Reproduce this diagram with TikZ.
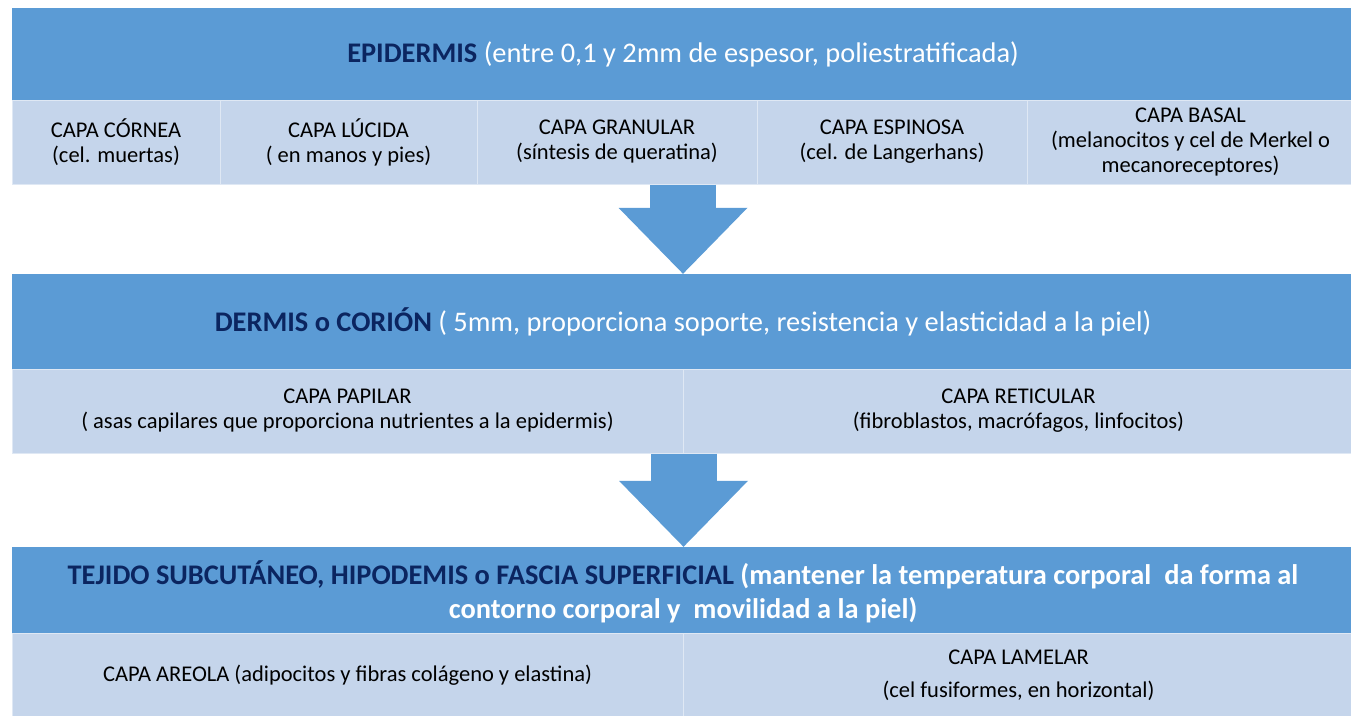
\documentclass[tikz,border=0pt]{standalone}
\usepackage{fontspec}
\setmainfont{Carlito}
\usepackage{tikz}
\usetikzlibrary{arrows.meta}
\definecolor{capablue}{HTML}{5B9BD5}
\definecolor{capalight}{HTML}{C5D5EB}
\definecolor{capanavy}{HTML}{0B2560}
\def\Capa(#1) at (#2) width (#3) #4; {
    \node[capa, minimum width=#3pt] (#1) at (#2) {#4};
}
\def\Titulo(#1) at (#2) height (#3) #4; {
    \node[titulo, minimum height=#3pt] (#1) at (#2) {#4};
}

\begin{document}
\begin{tikzpicture}[x=1pt, y=-1pt,
        capa/.style={fill=capalight, draw=white!45!capalight, line width=1pt,
            minimum height=84pt, inner sep=0pt, align=center,
            font=\fontsize{22.5}{25}\selectfont},
        titulo/.style={fill=capablue, text=white, minimum width=1342pt,
            inner sep=0pt, align=center, font=\fontsize{28.4}{33}\selectfont},
        flecha/.style={capablue, line width=66pt,
            -{Triangle[length=66pt, width=129pt, line width=0pt]}}]
        \useasboundingbox (0,0) rectangle (1351,715);
        % epidermis
        \Titulo(epi) at (683,54) height (92) {\textbf{\textcolor{capanavy}{EPIDERMIS}} (entre 0,1 y 2mm de espesor, poliestratificada)};
        \Capa(cornea) at (116,142) width (208) {CAPA CÓRNEA\\(cel. muertas)};
        \Capa(lucida) at (348.5,142) width (257) {CAPA LÚCIDA\\( en manos y pies)};
        \Capa(granular) at (617,142) width (280) {CAPA GRANULAR\\(síntesis de queratina)};
        \Capa(espinosa) at (892,142) width (270) {CAPA ESPINOSA\\(cel. de Langerhans)};
        \Capa(basal) at (1190.5,142) width (327) {CAPA BASAL\\(melanocitos y cel de Merkel o\\mecanoreceptores)};
        % dermis
        \Titulo(dermis) at (683,321.5) height (95) {\textbf{\textcolor{capanavy}{DERMIS o CORIÓN}} ( 5mm, proporciona soporte, resistencia y elasticidad a la piel)};
        \Capa(papilar) at (347.5,411) width (671) {CAPA PAPILAR\\( asas capilares que proporciona nutrientes a la epidermis)};
        \Capa(reticular) at (1018.5,411) width (671) {CAPA RETICULAR\\(fibroblastos, macrófagos, linfocitos)};
        % hipodermis
        \node[titulo, minimum height=90pt, font=\fontsize{28.4}{34}\selectfont\bfseries] (tejido) at (683,592) {\textcolor{capanavy}{TEJIDO SUBCUTÁNEO, HIPODEMIS o FASCIA SUPERFICIAL} (mantener la temperatura corporal\ \ da forma al\\contorno corporal y\ \ movilidad a la piel)};
        \Capa(areola) at (347.5,675.5) width (671) {CAPA AREOLA (adipocitos y fibras colágeno y elastina)};
        \Capa(lamelar) at (1018.5,675.5) width (671) {CAPA LAMELAR\\[8pt](cel fusiformes, en horizontal)};
        % flechas
        \draw[flecha] (granular.south -| epi.south) -- (dermis.north);
        \draw[flecha] (papilar.south east) -- (tejido.north -| papilar.east);
    \end{tikzpicture}
\end{document}
